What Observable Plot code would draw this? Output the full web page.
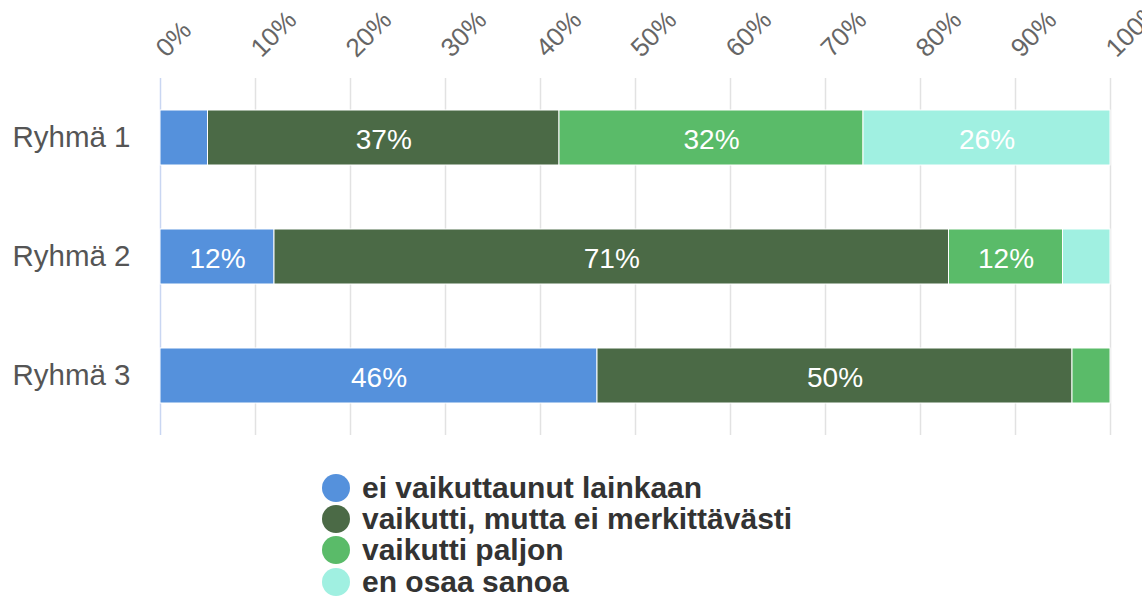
<!DOCTYPE html>
<html><head><meta charset="utf-8">
<script src="https://cdn.jsdelivr.net/npm/d3@7"></script>
<script src="https://cdn.jsdelivr.net/npm/@observablehq/plot@0.6"></script>
<style>
body{margin:0;background:#fff;font-family:"Liberation Sans",Arial,sans-serif;}
#chart svg{overflow:visible;}
#legend{margin-left:322px;margin-top:37px;}
.item{display:flex;align-items:center;height:31.3px;font-weight:bold;font-size:30px;color:#333;white-space:nowrap;}
.dot{width:28px;height:28px;border-radius:50%;margin-right:12px;flex:none;}
</style></head><body><div id="chart"></div><div id="legend"></div>
<script>
const groups = ["Ryhmä 1", "Ryhmä 2", "Ryhmä 3"];
const categories = ["ei vaikuttaunut lainkaan", "vaikutti, mutta ei merkittävästi", "vaikutti paljon", "en osaa sanoa"];
const colors = ["#5591dc", "#4b6a46", "#5abb69", "#a0f0e1"];
const eiVaikuttanut = [5, 12, 46];
const vaikuttiEiMerkittavasti = [37, 71, 50];
const vaikuttiPaljon = [32, 12, 4];
const enOsaaSanoa = [26, 5, 0];
const xTicks = [0, 10, 20, 30, 40, 50, 60, 70, 80, 90, 100];

const series = [eiVaikuttanut, vaikuttiEiMerkittavasti, vaikuttiPaljon, enOsaaSanoa];
const data = [];
series.forEach((vals, ci) => vals.forEach((v, gi) => {
  if (v > 0) data.push({group: groups[gi], category: categories[ci], value: v});
}));

const plot = Plot.plot({
  width: 1142,
  height: 435,
  marginTop: 78,
  marginBottom: 0,
  marginLeft: 160,
  marginRight: 32,
  style: {fontFamily: '"Liberation Sans", Arial, sans-serif', background: "#fff"},
  x: {domain: [0, 100]},
  y: {domain: groups, paddingInner: 0.54, paddingOuter: 0.27, label: null},
  color: {domain: categories, range: colors},
  marks: [
    Plot.gridX(xTicks.slice(1), {stroke: "#e2e2e2", strokeOpacity: 1, strokeWidth: 1.5}),
    Plot.ruleX([0], {stroke: "#c9d6f2", strokeWidth: 1.5}),
    Plot.barX(data, Plot.stackX({x: "value", y: "group", fill: "category", z: "category", stroke: "white", strokeWidth: 1})),
    Plot.text(data, Plot.stackX({x: "value", y: "group", z: "category",
      text: d => d.value >= 10 ? d.value + "%" : "", fill: "white", fontSize: 28, dy: 2})),
    Plot.axisX(xTicks, {anchor: "top", tickSize: 0, tickPadding: 26, tickRotate: -45, textAnchor: "start",
      tickFormat: d => d + "%", fontSize: 26, fill: "#666", label: null}),
    Plot.axisY({tickSize: 0, tickPadding: 30, fontSize: 29.5, fill: "#555", label: null})
  ]
});
document.getElementById("chart").appendChild(plot);

const legend = document.getElementById("legend");
categories.forEach((c, i) => {
  const item = document.createElement("div");
  item.className = "item";
  const dot = document.createElement("span");
  dot.className = "dot";
  dot.style.background = colors[i];
  const t = document.createElement("span");
  t.textContent = c;
  item.appendChild(dot);
  item.appendChild(t);
  legend.appendChild(item);
});
</script></body></html>
